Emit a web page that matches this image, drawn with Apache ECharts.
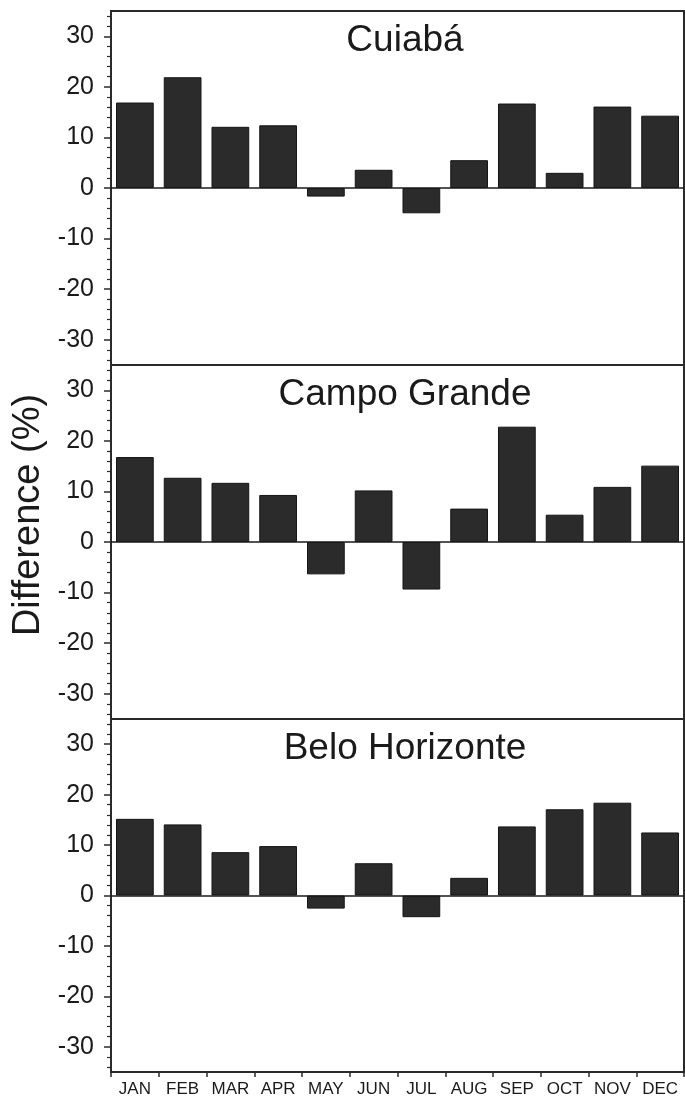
<!DOCTYPE html>
<html>
<head>
<meta charset="utf-8">
<script src="https://cdn.jsdelivr.net/npm/echarts@6/dist/echarts.min.js"></script>
<style>
html,body{margin:0;padding:0;background:#fff;}
#chart{width:685px;height:1098px;}
</style>
</head>
<body>
<div id="chart"></div>
<script>
const months = ['JAN','FEB','MAR','APR','MAY','JUN','JUL','AUG','SEP','OCT','NOV','DEC'];
const panelTitles = ['Cuiabá','Campo Grande','Belo Horizonte'];
const cuiaba = [16.9, 21.9, 12.1, 12.4, -1.7, 3.6, -5.0, 5.5, 16.7, 3.0, 16.1, 14.3];
const campoGrande = [16.8, 12.7, 11.7, 9.3, -6.4, 10.2, -9.4, 6.6, 22.8, 5.4, 10.9, 15.1];
const beloHorizonte = [15.2, 14.1, 8.6, 9.8, -2.6, 6.4, -4.3, 3.5, 13.7, 17.1, 18.4, 12.5];
const majorTicks = [-30, -20, -10, 0, 10, 20, 30];
const minorTicks = [-34, -32, -28, -26, -24, -22, -18, -16, -14, -12, -8, -6, -4, -2, 2, 4, 6, 8, 12, 14, 16, 18, 22, 24, 26, 28, 32, 34];
const yTitle = 'Difference (%)';

const seriesData = [cuiaba, campoGrande, beloHorizonte];
const gridPos = [
  {top: 11, height: 354},
  {top: 365, height: 354},
  {top: 719, height: 355}
];
const FONT = '"Liberation Sans", Arial, sans-serif';
const INK = '#1a1a1a';

const grids = [], xAxes = [], yAxes = [], series = [], titles = [];
gridPos.forEach((g, i) => {
  grids.push({left: 111, width: 573, top: g.top, height: g.height, show: true,
    borderColor: '#2a2a2a', borderWidth: 2, backgroundColor: 'transparent'});
  const last = i === gridPos.length - 1;
  xAxes.push({type: 'category', gridIndex: i, data: months, position: 'bottom',
    axisLine: {show: last, onZero: false, lineStyle: {color: '#2a2a2a', width: 2}},
    axisTick: {show: last, length: 5, lineStyle: {color: '#2a2a2a', width: 1.5}},
    axisLabel: {show: last, fontFamily: FONT, fontSize: 17, color: INK, margin: 9, interval: 0}
  });
  yAxes.push({type: 'value', gridIndex: i, position: 'left', min: -35, max: 35,
    axisLine: {show: true, lineStyle: {color: '#2a2a2a', width: 2}},
    axisTick: {show: true, length: 7, customValues: majorTicks, lineStyle: {color: '#2a2a2a', width: 1.5}},
    axisLabel: {show: true, customValues: majorTicks, fontFamily: FONT, fontSize: 25, color: INK, margin: 17},
    splitLine: {show: false}
  });
  yAxes.push({type: 'value', gridIndex: i, position: 'left', offset: 0, min: -35, max: 35,
    axisLine: {show: false},
    axisTick: {show: true, length: 4, customValues: minorTicks, lineStyle: {color: '#2a2a2a', width: 1.2}},
    axisLabel: {show: false},
    splitLine: {show: false}
  });
  series.push({type: 'bar', xAxisIndex: i, yAxisIndex: i * 2, data: seriesData[i],
    barCategoryGap: '21%',
    itemStyle: {color: '#2b2b2b', borderColor: '#151515', borderWidth: 1},
    markLine: {silent: true, symbol: 'none', label: {show: false},
      lineStyle: {color: '#1a1a1a', width: 1.6, type: 'solid'},
      data: [{yAxis: 0}]},
    animation: false
  });
  titles.push({text: panelTitles[i], left: 400, top: g.top + 6, textAlign: 'center',
    textStyle: {fontFamily: FONT, fontSize: 37, fontWeight: 'normal', color: INK}});
});

const chart = echarts.init(document.getElementById('chart'), null, {renderer: 'canvas'});
chart.setOption({
  animation: false,
  backgroundColor: '#fff',
  title: titles,
  grid: grids,
  xAxis: xAxes,
  yAxis: yAxes,
  series: series,
  graphic: [{type: 'text', x: 29, y: 515, rotation: Math.PI / 2,
    style: {text: yTitle, fontFamily: FONT, fontSize: 38, fill: INK, textAlign: 'center', textVerticalAlign: 'middle'}}]
});
</script>
</body>
</html>
